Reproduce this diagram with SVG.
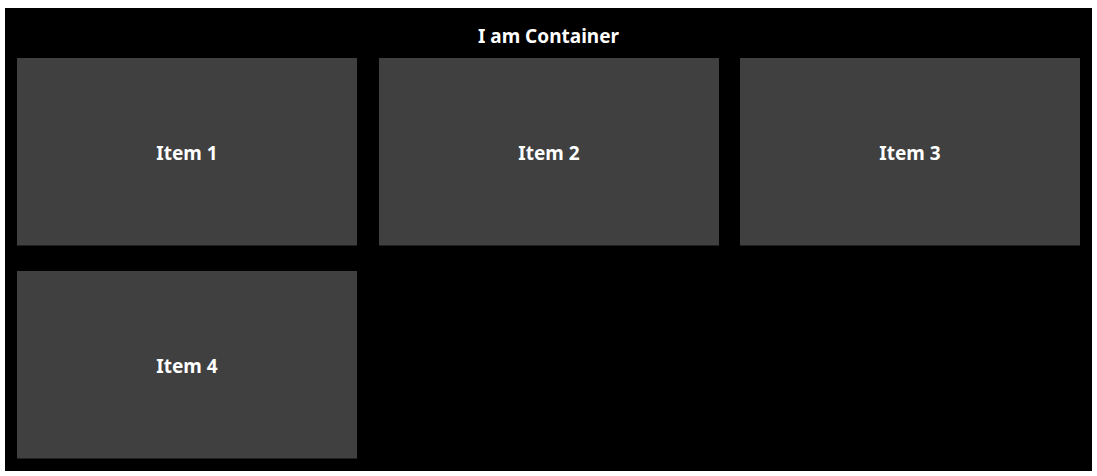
<svg xmlns="http://www.w3.org/2000/svg" width="1097" height="476" viewBox="0 0 1097 476">
<style>
.item{fill:#404040}
.t{fill:#ffffff;font-family:"Noto Sans","Open Sans","Liberation Sans",sans-serif;font-weight:bold;font-size:19px;text-anchor:middle;dominant-baseline:central}
</style>
<rect x="0" y="0" width="1097" height="476" fill="#ffffff"/>
<g id="container">
<rect x="5" y="8" width="1087" height="463" fill="#000000"/>
<text class="t" x="548.5" y="36">I am Container</text>
</g>
<g id="item1"><rect class="item" x="17" y="58" width="340" height="187.5"/><text class="t" x="187" y="153">Item 1</text></g>
<g id="item2"><rect class="item" x="379" y="58" width="340" height="187.5"/><text class="t" x="549" y="153">Item 2</text></g>
<g id="item3"><rect class="item" x="740" y="58" width="340" height="187.5"/><text class="t" x="910" y="153">Item 3</text></g>
<g id="item4"><rect class="item" x="17" y="271" width="340" height="187.5"/><text class="t" x="187" y="366">Item 4</text></g>
<g id="connectors"></g>
</svg>
